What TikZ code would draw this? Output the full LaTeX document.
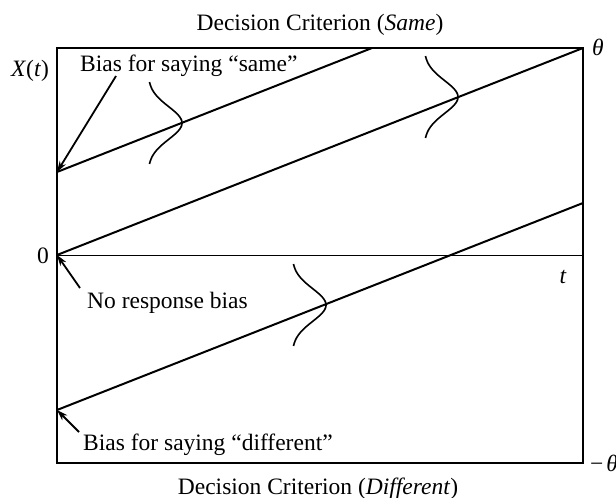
\documentclass[tikz,border=0pt]{standalone}
\usepackage{fontspec}
\setmainfont{Liberation Serif}
\usetikzlibrary{arrows.meta}
\begin{document}
\begin{tikzpicture}[x=1pt,y=-1pt,
  lbl/.style={inner sep=0pt, font=\fontsize{23.5}{28}\selectfont},
  frame/.style={line width=2pt},
  trend/.style={line width=2pt},
  axis0/.style={line width=1pt},
  dens/.style={line width=1.6pt},
  pointer/.style={line width=1.8pt, -{Stealth[length=11pt,width=7pt]}}]
\useasboundingbox (0,0) rectangle (616,498);
% frame
\draw[frame] (57,48) rectangle (583,463);
% zero line
\coordinate (z0) at (57,255);
\coordinate (z1) at (583,255);
\draw[axis0] (z0) -- (z1);
% starting points
\coordinate (sA) at (57,172);
\coordinate (sB) at (57,255);
\coordinate (sC) at (57,410);
\coordinate (eA) at (372,48);
\coordinate (eB) at (583,48);
\coordinate (eC) at (583,203);
\draw[trend] (sA) -- (eA);
\draw[trend] (sB) -- (eB);
\draw[trend] (sC) -- (eC);
% densities
\draw[dens] plot[domain=-2.5:2.5, samples=60, smooth, variable=\u] ({182-34+34*exp(-\u*\u/2)}, {123+16.4*\u});
\draw[dens] plot[domain=-2.5:2.5, samples=60, smooth, variable=\u] ({458-34+34*exp(-\u*\u/2)}, {97+16.4*\u});
\draw[dens] plot[domain=-2.5:2.5, samples=60, smooth, variable=\u] ({326-34+34*exp(-\u*\u/2)}, {305+16.4*\u});
% labels
\node[lbl, anchor=base] (top) at (320,30) {Decision Criterion (\textit{Same})};
\node[lbl, anchor=base] (bot) at (318,494) {Decision Criterion (\textit{Different})};
\node[lbl, anchor=base] (xt) at (30,76) {\textit{X}(\textit{t})};
\node[lbl, anchor=base west] (th) at (592,55) {\textit{θ}};
\node[lbl, anchor=base west] (mth) at (590,471) {−\kern3pt\textit{θ}};
\node[lbl, anchor=base] (zero) at (43,263) {0};
\node[lbl, anchor=base] (tt) at (563,283) {\textit{t}};
\node[lbl, anchor=base west] (bs) at (80,71) {Bias for saying “same”};
\node[lbl, anchor=base west] (nb) at (87,308) {No response bias};
\node[lbl, anchor=base west] (bd) at (83,450) {Bias for saying “different”};
% pointers
\coordinate (pA) at (116,76);
\coordinate (pB) at (80,288);
\coordinate (pC) at (79,432);
\draw[pointer] (pA) -- (sA);
\draw[pointer] (pB) -- (sB);
\draw[pointer] (pC) -- (sC);
\end{tikzpicture}
\end{document}
